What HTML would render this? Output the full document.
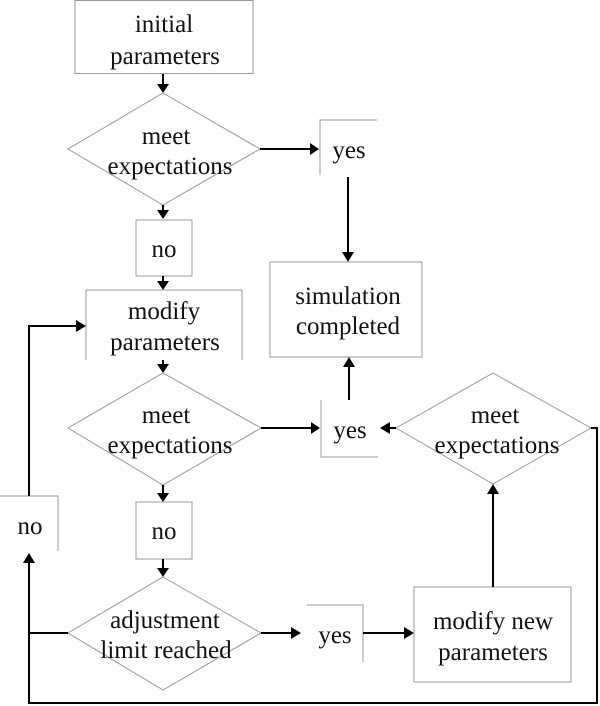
<!DOCTYPE html>
<html><head><style>
html,body{margin:0;padding:0;background:#fff;}
svg{display:block;}
text{font-family:"Liberation Serif",serif;font-size:25px;fill:#111;text-anchor:middle;}
.b{fill:none;stroke:#9a9a9a;stroke-width:1;}
.l{fill:none;stroke:#000;stroke-width:2;}
.a{fill:#000;}
</style></head><body>
<svg width="600" height="706" viewBox="0 0 600 706" xmlns="http://www.w3.org/2000/svg">
<rect class="b" x="75" y="0.5" width="178" height="73"/>
<text x="164" y="32">initial</text>
<text x="165" y="64">parameters</text>
<line class="l" x1="163" y1="74" x2="163" y2="86"/><polygon class="a" points="157,84 169,84 163,93"/>
<polygon class="b" points="163,93 260,149 163,205 68,149"/>
<text x="166" y="144">meet</text>
<text x="170" y="174">expectations</text>
<line class="l" x1="260" y1="149" x2="312" y2="149"/><polygon class="a" points="310,143 310,155 319,149"/>
<polyline class="b" points="320,175 320,120 377,120"/>
<text x="349" y="158">yes</text>
<line class="l" x1="348" y1="177" x2="348" y2="254"/><polygon class="a" points="342,252 354,252 348,262"/>
<rect class="b" x="270" y="262" width="152" height="95"/>
<text x="348" y="304">simulation</text>
<text x="348" y="334">completed</text>
<line class="l" x1="163" y1="205" x2="163" y2="212"/><polygon class="a" points="157,210 169,210 163,219"/>
<rect class="b" x="136" y="220" width="56" height="56"/>
<text x="164" y="257">no</text>
<line class="l" x1="163" y1="276" x2="163" y2="283"/><polygon class="a" points="157,281 169,281 163,290"/>
<polyline class="b" points="86,360 86,290 242,290 242,360"/>
<text x="164" y="319">modify</text>
<text x="165" y="350">parameters</text>
<line class="l" x1="163" y1="360" x2="163" y2="366"/><polygon class="a" points="157,364 169,364 163,373"/>
<polygon class="b" points="163,373 261,428 163,485 68,428"/>
<text x="166" y="423">meet</text>
<text x="170" y="453">expectations</text>
<line class="l" x1="261" y1="428" x2="313" y2="428"/><polygon class="a" points="311,422 311,434 320,428"/>
<polyline class="b" points="321,400 321,457 378,457"/>
<text x="350" y="438">yes</text>
<line class="l" x1="349" y1="400" x2="349" y2="365"/><polygon class="a" points="343,367 355,367 349,357"/>
<polygon class="b" points="493,373 591,428 493,484 396,428"/>
<text x="495" y="423">meet</text>
<text x="497" y="453">expectations</text>
<line class="l" x1="396" y1="428" x2="388" y2="428"/><polygon class="a" points="390,422 390,434 380,428"/>
<polyline class="l" points="591,428 597,428 597,703 29,703 29,561"/>
<polygon class="a" points="23,563 35,563 29,553"/>
<polyline class="b" points="0,496 58,496 58,551"/>
<text x="30" y="534">no</text>
<polyline class="l" points="29,496 29,326 78,326"/>
<polygon class="a" points="76,320 76,332 86,326"/>
<line class="l" x1="163" y1="485" x2="163" y2="495"/><polygon class="a" points="157,493 169,493 163,502"/>
<rect class="b" x="136" y="502" width="56" height="57"/>
<text x="164" y="539">no</text>
<line class="l" x1="163" y1="559" x2="163" y2="570"/><polygon class="a" points="157,568 169,568 163,577"/>
<polygon class="b" points="163,577 261,633 163,690 68,633"/>
<text x="165" y="628">adjustment</text>
<text x="166" y="658">limit reached</text>
<line class="l" x1="68" y1="633" x2="29" y2="633"/>
<line class="l" x1="261" y1="633" x2="293" y2="633"/><polygon class="a" points="291,627 291,639 301,633"/>
<polyline class="b" points="307,605 363,605 363,662"/>
<text x="335" y="643">yes</text>
<line class="l" x1="363" y1="633" x2="406" y2="633"/><polygon class="a" points="404,627 404,639 414,633"/>
<rect class="b" x="414" y="587" width="157" height="95"/>
<text x="493" y="629">modify new</text>
<text x="493" y="660">parameters</text>
<line class="l" x1="493" y1="587" x2="493" y2="492"/><polygon class="a" points="487,494 499,494 493,484"/>
</svg>
</body></html>
